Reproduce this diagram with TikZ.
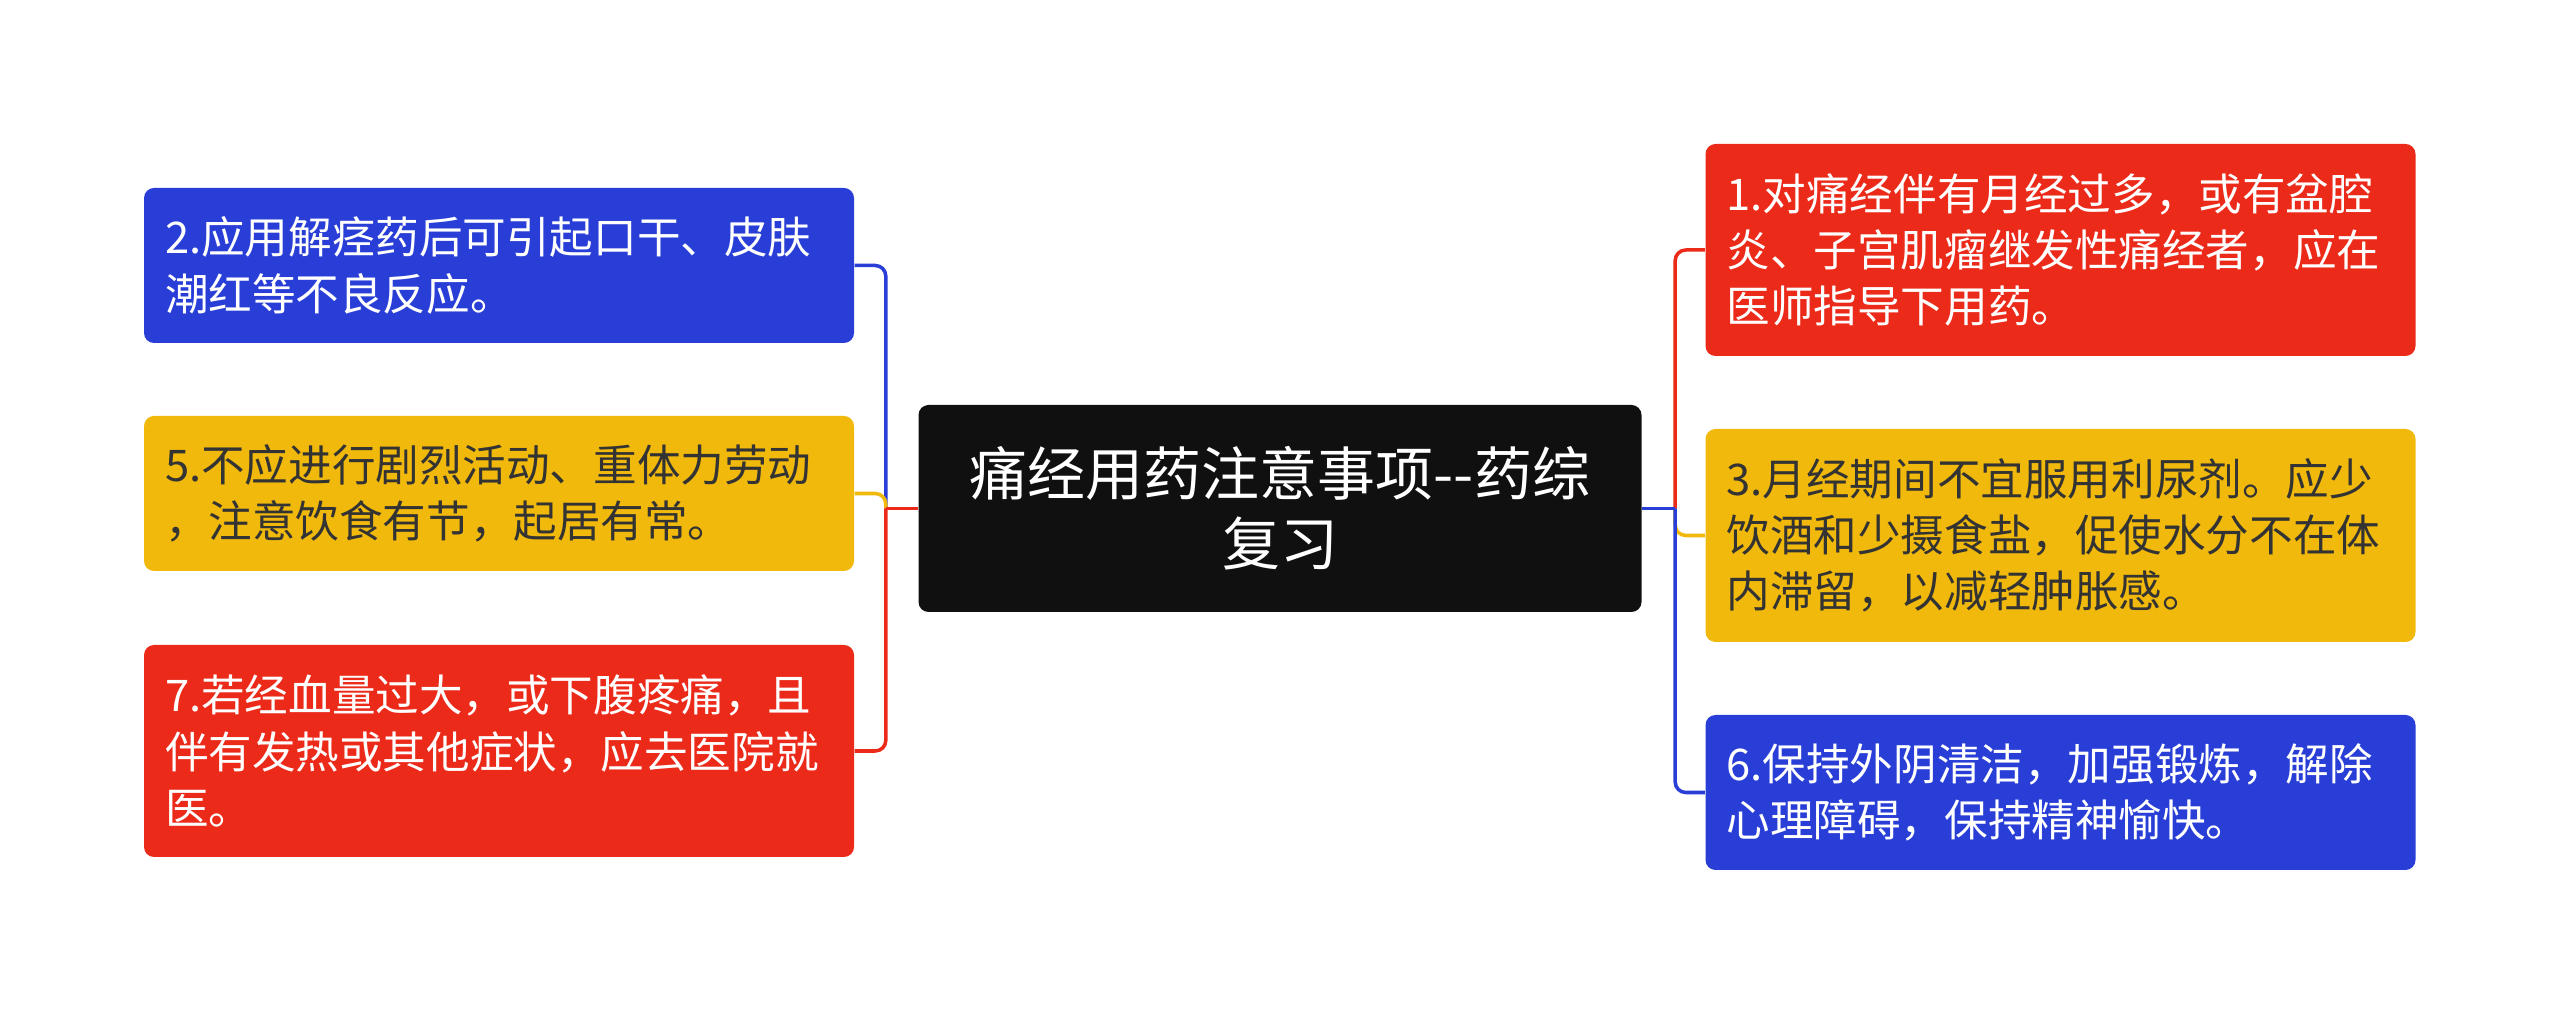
\documentclass[tikz,border=0pt]{standalone}
\usepackage{fontspec}
\setmainfont{Noto Sans CJK SC}
\usepackage{tikz}
\usetikzlibrary{calc,positioning}
\definecolor{cblue}{RGB}{40,62,214}
\definecolor{cred}{RGB}{236,42,26}
\definecolor{cyellow}{RGB}{240,185,12}
\definecolor{cblack}{RGB}{16,16,16}
\definecolor{ctext}{RGB}{51,51,51}
\tikzset{
  leafbox/.style={rounded corners=0.1cm, text width=6.68cm, inner xsep=0.21cm,
    align=left, font=\fontsize{12.4pt}{16pt}\selectfont},
  hubbox/.style={rounded corners=0.1cm, fill=cblack, text=white, align=center,
    minimum width=7.23cm, minimum height=2.07cm,
    font=\fontsize{16.5pt}{20pt}\selectfont},
  lk/.style={line width=1pt, rounded corners=3pt}
}

\begin{document}
\begin{tikzpicture}
\useasboundingbox[fill=white] (0,0) rectangle (25.6,-10.17);
\node[hubbox] (hub) at (12.80,-5.085) {痛经用药注意事项{-}{-}药综\\复习};
\node[leafbox, fill=cblue, text=white, minimum height=1.55cm] (b2) at (4.99,-2.655)
  {2.应用解痉药后可引起口干、皮肤\\潮红等不良反应。};
\node[leafbox, fill=cyellow, text=ctext, minimum height=1.55cm] (b5) at (4.99,-4.935)
  {5.不应进行剧烈活动、重体力劳动\\，注意饮食有节，起居有常。};
\node[leafbox, fill=cred, text=white, minimum height=2.12cm] (b7) at (4.99,-7.51)
  {7.若经血量过大，或下腹疼痛，且\\伴有发热或其他症状，应去医院就\\医。};
\node[leafbox, fill=cred, text=white, minimum height=2.12cm] (b1) at (20.605,-2.50)
  {1.对痛经伴有月经过多，或有盆腔\\炎、子宫肌瘤继发性痛经者，应在\\医师指导下用药。};
\node[leafbox, fill=cyellow, text=ctext, minimum height=2.13cm] (b3) at (20.605,-5.355)
  {3.月经期间不宜服用利尿剂。应少\\饮酒和少摄食盐，促使水分不在体\\内滞留，以减轻肿胀感。};
\node[leafbox, fill=cblue, text=white, minimum height=1.55cm] (b6) at (20.605,-7.925)
  {6.保持外阴清洁，加强锻炼，解除\\心理障碍，保持精神愉快。};
\coordinate (jl) at ($(hub.west)+(-0.32,0)$);
\coordinate (jr) at ($(hub.east)+(0.33,0)$);
\draw[lk, cblue] (jl) |- (b2.east);
\draw[lk, cyellow] (jl) |- (b5.east);
\draw[lk, cred] (jl) |- (b7.east);
\draw[lk, cred] (hub.west) -- (jl);
\draw[lk, cred] (jr) |- (b1.west);
\draw[lk, cyellow] (jr) |- (b3.west);
\draw[lk, cblue] (jr) |- (b6.west);
\draw[lk, cblue] (hub.east) -- (jr);
\end{tikzpicture}
\end{document}
